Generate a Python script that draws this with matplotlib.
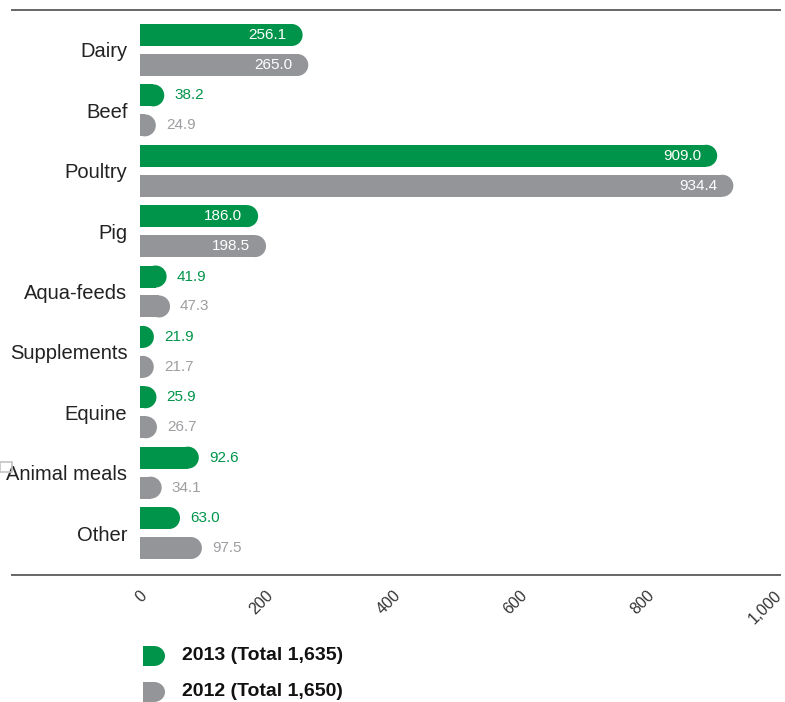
''' feed production by sector, 2013 vs 2012 '''
import matplotlib.pyplot as plt
from matplotlib.patches import Ellipse, Rectangle
from matplotlib.lines import Line2D
from matplotlib.transforms import ScaledTranslation

CATEGORIES = ['Dairy', 'Beef', 'Poultry', 'Pig', 'Aqua-feeds', 'Supplements',
              'Equine', 'Animal meals', 'Other']
VALUES_2013 = [256.1, 38.2, 909.0, 186.0, 41.9, 21.9, 25.9, 92.6, 63.0]
VALUES_2012 = [265.0, 24.9, 934.4, 198.5, 47.3, 21.7, 26.7, 34.1, 97.5]
TICKS = [0, 200, 400, 600, 800, 1000]
TICK_LABELS = ['0', '200', '400', '600', '800', '1,000']
LEGEND_LABELS = ['2013 (Total 1,635)', '2012 (Total 1,650)']

GREEN = '#00944a'
GREY = '#939598'
GREY_TEXT = '#9d9ea1'

W, H = 785, 702
PX = 1000 / 635      # data units per pixel along x
ROW = 60.4           # pixels between category rows
BAR_H = 22 / ROW
OFFSET = 15 / ROW
CAP = 11 * PX        # radius of the rounded end, in x data units
NUM_FONT = dict(fontsize=11, family='Liberation Sans')


def rounded_bar(ax, y, value, color):
    '''bar with a square left end and a round right end'''
    ax.barh(y, value - CAP, height=BAR_H, left=0, color=color, linewidth=0)
    ax.add_patch(Ellipse((value - CAP, y), 2 * CAP, BAR_H, color=color, linewidth=0))


def value_label(ax, y, value, text_color):
    if value > 150:
        ax.text(value - 16 * PX, y, f'{value:.1f}', color='white', ha='right',
                va='center', **NUM_FONT)
    else:
        ax.text(value + 10 * PX, y, f'{value:.1f}', color=text_color, ha='left',
                va='center', **NUM_FONT)


def main():
    '''main function '''
    fig = plt.figure(figsize=(W / 100, H / 100), dpi=100)
    ax = fig.add_axes([140 / W, 1 - 575 / H, 635 / W, 565 / H])

    for i, (v13, v12) in enumerate(zip(VALUES_2013, VALUES_2012)):
        rounded_bar(ax, i - OFFSET, v13, GREEN)
        rounded_bar(ax, i + OFFSET, v12, GREY)
        value_label(ax, i - OFFSET, v13, GREEN)
        value_label(ax, i + OFFSET, v12, GREY_TEXT)

    ax.set_xlim(0, 1000)
    ax.set_ylim(8 + 42 / ROW, -40 / ROW)
    ax.set_yticks(range(len(CATEGORIES)), CATEGORIES, fontsize=14.5,
                  family='Liberation Sans', color='#222222')
    ax.set_xticks(TICKS, TICK_LABELS, rotation=45, ha='right', va='center',
                  rotation_mode='anchor', fontsize=11.5,
                  family='Liberation Sans', color='#333333')
    ax.tick_params(axis='y', length=0, pad=9)
    ax.tick_params(axis='x', length=0, pad=13)
    shift = ScaledTranslation(4 / 100, 0, fig.dpi_scale_trans)
    for lab in ax.get_xticklabels():
        lab.set_transform(lab.get_transform() + shift)
    for s in ax.spines.values():
        s.set_visible(False)

    # rules above and below the plot area
    for ypx in (10, 575):
        fig.add_artist(Line2D([12 / W, 780 / W], [1 - ypx / H] * 2,
                              color='#666666', lw=1.4))
    fig.add_artist(Rectangle((0, 1 - 472 / H), 12 / W, 10 / H, fill=False,
                             edgecolor='#c4c4c4', lw=1.2))

    # legend
    for k, (label, color) in enumerate(zip(LEGEND_LABELS, [GREEN, GREY])):
        yc = 656 + 36 * k
        fig.add_artist(Rectangle((143 / W, 1 - (yc + 10) / H), 11 / W, 20 / H,
                                 color=color, lw=0))
        fig.add_artist(Ellipse((154 / W, 1 - yc / H), 22 / W, 20 / H,
                               color=color, lw=0))
        fig.text(182 / W, 1 - yc / H, label, ha='left', va='center', fontsize=14,
                 fontweight='bold', family='Liberation Sans', color='#111111')

    fig.savefig('out.png', dpi=100)


if __name__ == "__main__":
    main()
